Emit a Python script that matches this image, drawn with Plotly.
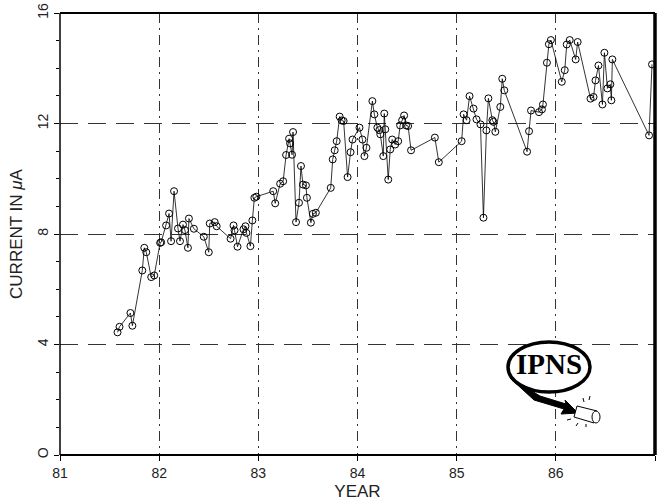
import plotly.graph_objects as go

years = [81.58, 81.60, 81.71, 81.73, 81.83, 81.85, 81.87, 81.92, 81.95, 82.01,
         82.02, 82.07, 82.10, 82.12, 82.15, 82.19, 82.21, 82.24, 82.26, 82.29,
         82.30, 82.35, 82.45, 82.50, 82.51, 82.56, 82.58, 82.72, 82.75, 82.76,
         82.79, 82.85, 82.87, 82.88, 82.92, 82.94, 82.96, 82.98, 83.15, 83.17,
         83.22, 83.25, 83.28, 83.31, 83.32, 83.34, 83.35, 83.38, 83.41, 83.43,
         83.45, 83.48, 83.49, 83.53, 83.55, 83.58, 83.73, 83.75, 83.77, 83.79,
         83.82, 83.84, 83.86, 83.90, 83.93, 83.95, 84.02, 84.05, 84.07, 84.09,
         84.15, 84.17, 84.20, 84.22, 84.23, 84.26, 84.27, 84.28, 84.31, 84.33,
         84.35, 84.38, 84.41, 84.43, 84.45, 84.47, 84.49, 84.51, 84.54, 84.78,
         84.82, 85.05, 85.07, 85.10, 85.13, 85.17, 85.20, 85.24, 85.27, 85.30,
         85.32, 85.36, 85.37, 85.39, 85.44, 85.46, 85.48, 85.71, 85.73, 85.75,
         85.83, 85.86, 85.87, 85.91, 85.93, 85.95, 86.06, 86.09, 86.11, 86.14,
         86.20, 86.22, 86.35, 86.38, 86.40, 86.43, 86.47, 86.49, 86.52, 86.55,
         86.56, 86.57, 86.94, 86.97]
current = [4.44, 4.64, 5.14, 4.68, 6.68, 7.50, 7.34, 6.44, 6.50, 7.68,
           7.70, 8.31, 8.74, 7.74, 9.55, 8.20, 7.74, 8.34, 8.14, 7.50,
           8.56, 8.19, 7.90, 7.34, 8.38, 8.43, 8.28, 7.83, 8.31, 8.13,
           7.54, 8.17, 8.28, 8.04, 7.56, 8.49, 9.31, 9.35, 9.55, 9.11,
           9.82, 9.91, 10.86, 11.45, 11.28, 10.87, 11.69, 8.43, 9.13, 10.46,
           9.79, 9.76, 9.31, 8.41, 8.73, 8.77, 9.67, 10.70, 11.03, 11.36,
           12.25, 12.11, 12.09, 10.06, 10.96, 11.42, 11.85, 11.42, 10.82, 11.12,
           12.81, 12.33, 11.85, 11.76, 11.61, 10.82, 12.36, 11.79, 9.97, 11.06,
           11.42, 11.24, 11.36, 11.93, 12.12, 12.29, 11.93, 11.91, 11.03, 11.49,
           10.60, 11.36, 12.33, 12.12, 12.99, 12.54, 12.15, 11.97, 8.59, 11.75,
           12.91, 12.12, 12.06, 11.70, 12.60, 13.62, 13.20, 10.98, 11.72, 12.47,
           12.41, 12.51, 12.69, 14.20, 14.87, 15.02, 13.51, 13.93, 14.86, 15.02,
           14.32, 14.95, 12.90, 12.96, 13.56, 14.10, 12.69, 14.56, 13.27, 13.42,
           12.84, 14.32, 11.57, 14.14]

x_ticks = [81, 82, 83, 84, 85, 86, 87]
y_ticks = [0, 4, 8, 12, 16]
y_tick_text = ["O", "4", "8", "12", "16"]

W, H = 661, 504
L, R, T, B = 60, 6, 13, 49
PW, PH = W - L - R, H - T - B


def px(x):
    return (x - L) / PW


def py(y):
    return (H - B - y) / PH


fig = go.Figure()
fig.add_trace(go.Scatter(
    x=years, y=current, mode="lines+markers",
    line=dict(color="black", width=0.8),
    marker=dict(symbol="circle-open", size=7, color="black", line=dict(width=1)),
    showlegend=False,
))

font = dict(family="Liberation Sans", color="#222", size=14)

fig.update_layout(
    width=W, height=H,
    margin=dict(l=L, r=R, t=T, b=B, autoexpand=False),
    paper_bgcolor="white", plot_bgcolor="white",
    font=font,
    xaxis=dict(
        range=[81, 87], tickvals=x_ticks, ticktext=[str(v) for v in x_ticks],
        showgrid=True, gridcolor="#333", gridwidth=1, griddash="10px,5px,2px,5px",
        ticks="outside", ticklen=5, tickcolor="black", showline=False, zeroline=False,
        title=dict(text="YEAR", font=dict(size=17), standoff=5),
        tickfont=dict(size=14), automargin=False,
    ),
    yaxis=dict(
        range=[0, 16], tickvals=y_ticks, ticktext=y_tick_text,
        tickangle=-90,
        showgrid=True, gridcolor="#333", gridwidth=1, griddash="18px,10px",
        ticks="outside", ticklen=5, tickcolor="black", showline=False, zeroline=False,
        minor=dict(dtick=1, ticks="outside", ticklen=3, tickcolor="black", showgrid=False),
        title=dict(text="CURRENT IN <i>μ</i>A", font=dict(size=17), standoff=8),
        tickfont=dict(size=14), automargin=False,
    ),
)

shapes = [
    # frame
    dict(type="line", xref="paper", yref="paper", x0=0, x1=0, y0=0, y1=1,
         line=dict(color="black", width=1.5)),
    dict(type="line", xref="paper", yref="paper", x0=0, x1=1, y0=1, y1=1,
         line=dict(color="black", width=2)),
    dict(type="line", xref="paper", yref="paper", x0=0, x1=1, y0=0, y1=0,
         line=dict(color="black", width=2)),
    dict(type="line", xref="paper", yref="paper", x0=1, x1=1, y0=0, y1=1,
         line=dict(color="black", width=3.5)),
    # logo ellipse
    dict(type="circle", xref="paper", yref="paper",
         x0=px(508), x1=px(590), y0=py(392), y1=py(342),
         line=dict(color="black", width=3.5), fillcolor="white"),
]

# logo tail wedge + arrow
pts = [(510, 378), (540, 396), (566, 404), (565, 400), (578, 413), (561, 414), (564, 409), (534, 400)]
path = "M " + " L ".join(f"{px(a):.5f},{py(b):.5f}" for a, b in pts) + " Z"
shapes.append(dict(type="path", xref="paper", yref="paper", path=path,
                   fillcolor="black", line=dict(color="black", width=1)))
# cylinder body
cyl = [(577, 406), (597, 411), (594, 423), (574, 417)]
cpath = "M " + " L ".join(f"{px(a):.5f},{py(b):.5f}" for a, b in cyl) + " Z"
shapes.append(dict(type="path", xref="paper", yref="paper", path=cpath,
                   fillcolor="white", line=dict(color="black", width=1)))
shapes.append(dict(type="circle", xref="paper", yref="paper",
                   x0=px(592), x1=px(600), y0=py(423), y1=py(411),
                   fillcolor="white", line=dict(color="black", width=1)))
# sparkles
for (a, b, c, d) in [(583, 398, 584, 402), (590, 396, 589, 400), (567, 420, 571, 419),
                     (576, 426, 578, 423), (586, 427, 586, 424), (570, 412, 573, 412)]:
    shapes.append(dict(type="line", xref="paper", yref="paper",
                       x0=px(a), y0=py(b), x1=px(c), y1=py(d),
                       line=dict(color="black", width=1)))

fig.update_layout(shapes=shapes)

fig.add_annotation(xref="paper", yref="paper", x=px(549), y=py(364),
                   xanchor="center", yanchor="middle",
                   text="<b>IPNS</b>", showarrow=False,
                   font=dict(family="Liberation Serif", size=29, color="black"))

fig.write_html("out.html", config={"displayModeBar": False},
               post_script="document.body.style.margin='0';document.body.style.overflow='hidden';")
